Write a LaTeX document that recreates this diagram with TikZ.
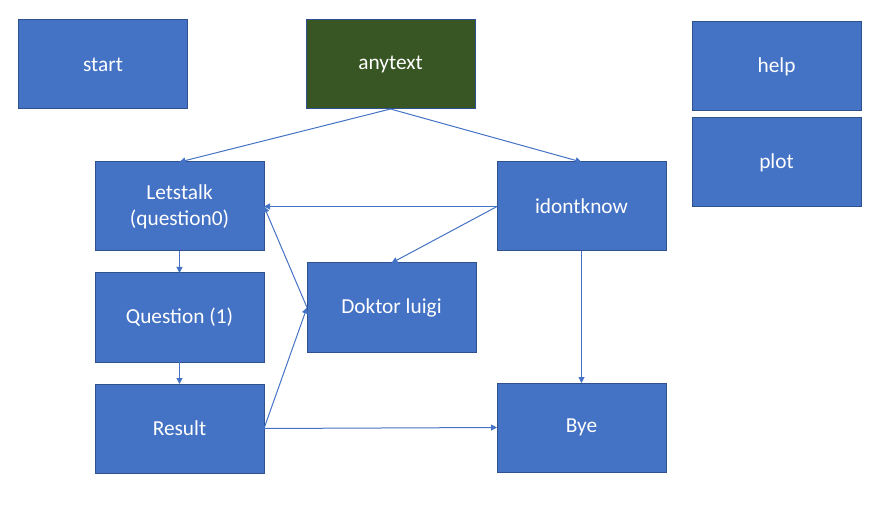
\documentclass[tikz,border=0pt]{standalone}
\usepackage{fontspec}
\setmainfont{Carlito}
\usepackage{tikz}
\usetikzlibrary{positioning, arrows.meta}
\definecolor{boxblue}{HTML}{4472C4}
\definecolor{boxedge}{HTML}{2F528F}
\definecolor{boxgreen}{HTML}{375623}
\tikzset{
  state/.style={rectangle, minimum width=126.75pt, minimum height=66.75pt, inner sep=0pt, outer sep=0pt, text centered, align=center, draw=boxedge, line width=0.75pt, fill=boxblue, text=white},
  textstate/.style={state, fill=boxgreen},
  arrow/.style={draw=boxblue, line width=0.75pt, -{Triangle[length=4.5pt, width=4.5pt]}}
}

\begin{document}
\begin{tikzpicture}[
        x=0.75pt, y=-0.75pt,
        node distance=16.5pt and 20pt,
        every node/.style={font=\fontsize{16pt}{19.5pt}\selectfont}
    ]
        \useasboundingbox (0,0) rectangle (880,509);

        % --- Top row ---
        \node (start) [state] at (103,64.5) {start};
        \node (anytext) [textstate] at (390.5,64.5) {anytext};
        \node (help) [state] at (776.5,66.5) {help};
        \node (plot) [state, below=5.25pt of help] {plot};

        % --- Left column ---
        \node (letstalk) [state] at (179.5,206.5) {Letstalk\\(question0)};
        \node (question) [state, below=of letstalk] {Question (1)};
        \node (result) [state, below=of question] {Result};

        % --- Middle and right ---
        \node (doktor) [state] at (391.5,307.5) {Doktor luigi};
        \node (idontknow) [state] at (581.5,206.5) {idontknow};
        \node (bye) [state] at (581.5,427.5) {Bye};

        % --- Connections ---
        \draw [arrow] (anytext.south) -- (letstalk.north);
        \draw [arrow] (anytext.south) -- (idontknow.north);
        \draw [arrow] (idontknow.west) -- (letstalk.east);
        \draw [arrow] (idontknow.west) -- (doktor.north);
        \draw [arrow] (idontknow.south) -- (bye.north);
        \draw [arrow] (letstalk.south) -- (question.north);
        \draw [arrow] (question.south) -- (result.north);
        \draw [arrow] (result.east) -- (doktor.west);
        \draw [arrow] (doktor.west) -- (letstalk.east);
        \draw [arrow] (result.east) -- (bye.west);

    \end{tikzpicture}
\end{document}
